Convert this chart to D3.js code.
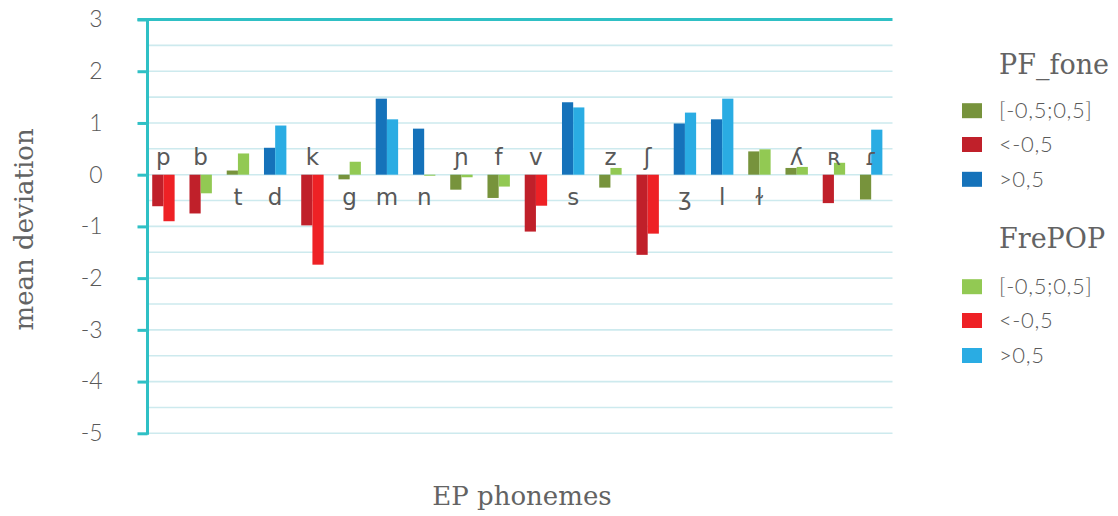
<!DOCTYPE html>
<html>
<head>
<meta charset="utf-8">
<script src="https://cdn.jsdelivr.net/npm/d3@7"></script>
<style>
  html, body { margin: 0; padding: 0; background: #fff; }
  svg { display: block; }
</style>
</head>
<body>
<svg id="chart" width="1118" height="516"></svg>
<script>
// ---- data ----
const categories = ["p","b","t","d","k","g","m","n","ɲ","f","v","s","z","ʃ","ʒ","l","ɫ","ʎ","ʀ","ɾ"];
const pfFone = [-0.61,-0.75,0.08,0.52,-0.98,-0.09,1.47,0.89,-0.29,-0.45,-1.10,1.40,-0.25,-1.55,0.99,1.07,0.45,0.13,-0.55,-0.48];
const frePop = [-0.90,-0.36,0.41,0.95,-1.74,0.25,1.07,-0.02,-0.05,-0.23,-0.60,1.30,0.13,-1.14,1.20,1.47,0.49,0.15,0.23,0.87];
const labelSide = ["up","up","down","down","up","down","down","down","up","up","up","down","up","up","down","down","down","up","up","up"];
const yTicks = [3,2,1,0,-1,-2,-3,-4,-5];
const classLabels = ["[-0,5;0,5]", "<-0,5", ">0,5"];
const seriesNames = ["PF_fone", "FrePOP"];

// ---- style ----
const palette = {
  PF_fone: { mid: "#77933C", low: "#C0202A", high: "#1572BA" },
  FrePOP:  { mid: "#92C953", low: "#EE2125", high: "#2AACE3" }
};
function cls(v) { return v < -0.5 ? "low" : (v > 0.5 ? "high" : "mid"); }

const teal = "#2FC0C5";
const grid = "#CDEAEE";
const textCol = "#595959";

const svg = d3.select("#chart");
const plotL = 147.5, plotR = 892.5, plotT = 19.5, plotB = 433.3;

const y = d3.scaleLinear().domain([-5, 3]).range([plotB, plotT]);
const x = d3.scaleBand().domain(categories).range([plotL - 2.7, plotR - 2.7]).paddingInner(0).paddingOuter(0);
const xs = d3.scaleBand().domain(seriesNames).range([0, 22.4]);

// gridlines every 0.5
const gridVals = d3.range(-5, 3, 0.5);
svg.append("g").selectAll("line").data(gridVals).join("line")
  .attr("x1", plotL).attr("x2", plotR)
  .attr("y1", d => y(d)).attr("y2", d => y(d))
  .attr("stroke", grid).attr("stroke-width", 1.6);

// bars
const rows = categories.map((c, i) => ({ c, i, vals: [pfFone[i], frePop[i]] }));
const g = svg.append("g");
rows.forEach(r => {
  const cx = x(r.c) + x.bandwidth() / 2 - 11.2;
  seriesNames.forEach((s, k) => {
    const v = r.vals[k];
    g.append("rect")
      .attr("x", cx + xs(s))
      .attr("width", xs.bandwidth())
      .attr("y", y(Math.max(0, v)))
      .attr("height", Math.abs(y(v) - y(0)))
      .attr("fill", palette[s][cls(v)]);
  });
});

// phoneme labels
svg.append("g").selectAll("text").data(rows).join("text")
  .attr("x", d => x(d.c) + x.bandwidth() / 2)
  .attr("y", d => labelSide[d.i] === "up" ? y(0) - 10 : y(0) + 30)
  .attr("text-anchor", "middle")
  .attr("font-family", "'DejaVu Sans', 'Liberation Sans', sans-serif")
  .attr("font-size", 23)
  .attr("fill", textCol)
  .text(d => d.c);

// y axis
const yAxis = d3.axisLeft(y).tickValues(yTicks).tickSize(10).tickPadding(35).tickFormat(d => String(d));
const ax = svg.append("g").attr("transform", `translate(${plotL},0)`).call(yAxis);
ax.select(".domain").remove();
ax.selectAll(".tick line").attr("stroke", teal).attr("stroke-width", 3);
ax.selectAll(".tick text")
  .attr("font-family", "Lato, 'Open Sans', sans-serif")
  .attr("font-weight", 300)
  .attr("font-size", 23)
  .attr("fill", textCol);
svg.append("line").attr("x1", plotL).attr("x2", plotL).attr("y1", plotT - 1.5).attr("y2", plotB + 1.5)
  .attr("stroke", teal).attr("stroke-width", 3);
svg.append("line").attr("x1", plotL - 10).attr("x2", plotR).attr("y1", plotT).attr("y2", plotT)
  .attr("stroke", teal).attr("stroke-width", 3);

// axis titles
svg.append("text")
  .attr("transform", `translate(33,${(plotT + plotB) / 2 + 3}) rotate(-90)`)
  .attr("text-anchor", "middle")
  .attr("font-family", "'DejaVu Serif', serif")
  .attr("font-size", 26)
  .attr("fill", "#636363")
  .text("mean deviation");
svg.append("text")
  .attr("x", 522).attr("y", 505)
  .attr("text-anchor", "middle")
  .attr("font-family", "'DejaVu Serif', serif")
  .attr("font-size", 26)
  .attr("fill", "#636363")
  .text("EP phonemes");

// legend
const legendBlocks = [
  { name: "PF_fone", titleY: 74, itemY: [110.7, 144.5, 179.3] },
  { name: "FrePOP", titleY: 248, itemY: [286.7, 320.5, 355.5] }
];
const keys = ["mid", "low", "high"];
const lg = svg.append("g");
legendBlocks.forEach(b => {
  lg.append("text").attr("x", 999).attr("y", b.titleY)
    .attr("font-family", "'DejaVu Serif', serif")
    .attr("font-size", 27)
    .attr("fill", "#636363")
    .text(b.name);
  keys.forEach((k, j) => {
    lg.append("rect").attr("x", 962).attr("y", b.itemY[j] - 7.5).attr("width", 20).attr("height", 15)
      .attr("fill", palette[b.name][k]);
    lg.append("text").attr("x", 999).attr("y", b.itemY[j] + 7.5)
      .attr("font-family", "Lato, 'Open Sans', sans-serif")
      .attr("font-weight", 300)
      .attr("font-size", 22)
      .attr("letter-spacing", 0.6)
      .attr("fill", textCol)
      .text(classLabels[j]);
  });
});
</script>
</body>
</html>
